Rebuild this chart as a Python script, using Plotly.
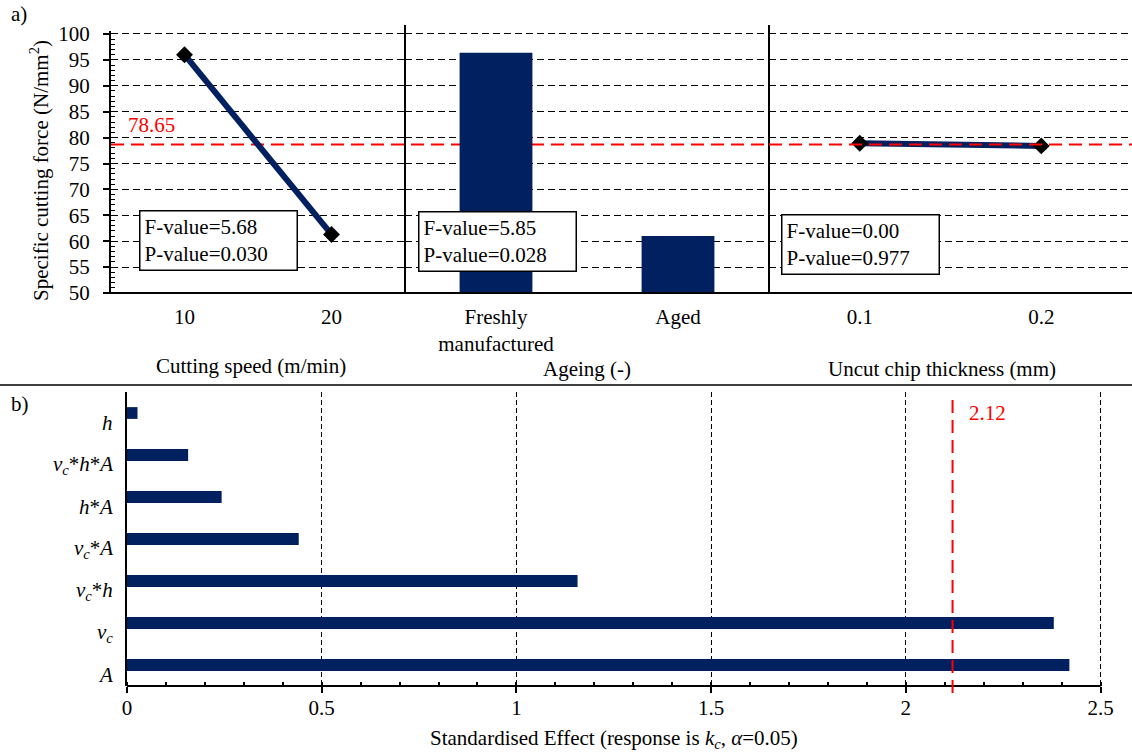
import plotly.graph_objects as go

W, H = 1132, 755
def px(x):
    return x / W
def py(y):
    return 1 - y / H

NAVY = "#002060"
RED = "#FF0000"
FONT = "Liberation Serif"
FS = 21

# ---- data (panel a) ----
speed = [10, 20]
kc_speed = [96.0, 61.3]
ageing = ["Freshly<br>manufactured", "Aged"]
kc_ageing = [96.4, 61.0]
chip = [0.1, 0.2]
kc_chip = [78.9, 78.4]
mean_kc = 78.65
stats_text = [
    "F-value=5.68<br>P-value=0.030",
    "F-value=5.85<br>P-value=0.028",
    "F-value=0.00<br>P-value=0.977",
]
factor_titles = ["Cutting speed (m/min)", "Ageing (-)", "Uncut chip thickness (mm)"]

# ---- data (panel b) ----
terms = ["A", "vc", "vc*h", "vc*A", "h*A", "vc*h*A", "h"]
term_labels = [
    "<i>A</i>",
    "<i>v<sub>c</sub></i>",
    "<i>v<sub>c</sub></i>*<i>h</i>",
    "<i>v<sub>c</sub></i>*<i>A</i>",
    "<i>h</i>*<i>A</i>",
    "<i>v<sub>c</sub></i>*<i>h</i>*<i>A</i>",
    "<i>h</i>",
]
effects = [2.42, 2.38, 1.157, 0.441, 0.243, 0.157, 0.027]
critical = 2.12

fig = go.Figure()

fig.add_trace(go.Scatter(
    x=speed, y=kc_speed, xaxis="x", yaxis="y", mode="lines+markers",
    line=dict(color=NAVY, width=6),
    marker=dict(symbol="diamond", size=13, color="black"),
    cliponaxis=False))
fig.add_trace(go.Bar(
    x=ageing, y=kc_ageing, xaxis="x2", yaxis="y2", width=0.4,
    marker=dict(color=NAVY, line=dict(width=0))))
fig.add_trace(go.Scatter(
    x=chip, y=kc_chip, xaxis="x3", yaxis="y3", mode="lines+markers",
    line=dict(color=NAVY, width=6),
    marker=dict(symbol="diamond", size=13, color="black"),
    cliponaxis=False))
fig.add_trace(go.Bar(
    x=effects, y=terms, orientation="h", xaxis="x4", yaxis="y4", width=0.28,
    marker=dict(color=NAVY, line=dict(width=0))))

YR = [50, 100.5]
ydom_top = [(H - 293) / H, (H - 31.4) / H]
ydom_bot = [(H - 686) / H, (H - 392) / H]

grid_top = dict(showgrid=True, gridcolor="black", gridwidth=1.2, griddash="7px,4px")

tickfont = dict(family=FONT, size=FS, color="black")

fig.update_layout(
    template="none",
    width=W, height=H,
    margin=dict(l=0, r=0, t=0, b=0, pad=0, autoexpand=False),
    paper_bgcolor="white", plot_bgcolor="white",
    showlegend=False,
    font=dict(family=FONT, size=FS, color="black"),
    xaxis=dict(domain=[px(111), px(405)], range=[5, 25], tickvals=speed,
               ticks="", showline=False, showgrid=False, zeroline=False,
               anchor="y", tickfont=tickfont, ticklabelstandoff=9, automargin=False),
    xaxis2=dict(domain=[px(405), px(769)], type="category", range=[-0.5, 1.5],
                ticks="", showline=False, showgrid=False, zeroline=False,
                anchor="y2", tickfont=tickfont, ticklabelstandoff=9, automargin=False),
    xaxis3=dict(domain=[px(769), 1], range=[0.05, 0.25], tickvals=chip,
                ticks="", showline=False, showgrid=False, zeroline=False,
                anchor="y3", tickfont=tickfont, ticklabelstandoff=9, automargin=False),
    yaxis=dict(domain=ydom_top, range=YR, autorange=False, tick0=50, dtick=5,
               ticks="outside", ticklen=6, tickwidth=1.5, tickcolor="black",
               minor=dict(dtick=1, tick0=50, ticks="inside", ticklen=4,
                          tickwidth=1, tickcolor="black", showgrid=False),
               showline=True, linewidth=2, linecolor="black", zeroline=False,
               anchor="x", tickfont=tickfont, ticklabelstandoff=9,
               automargin=False, **grid_top),
    yaxis2=dict(domain=ydom_top, range=YR, autorange=False, tick0=50, dtick=5, ticks="",
                showticklabels=False, showline=False, zeroline=False,
                anchor="x2", automargin=False, **grid_top),
    yaxis3=dict(domain=ydom_top, range=YR, autorange=False, tick0=50, dtick=5, ticks="",
                showticklabels=False, showline=False, zeroline=False,
                anchor="x3", automargin=False, **grid_top),
    xaxis4=dict(domain=[px(127), px(1120)], range=[0, 2.55], autorange=False,
                tick0=0, dtick=0.5,
                ticks="outside", ticklen=6, tickwidth=1.5, tickcolor="black",
                minor=dict(dtick=0.1, tick0=0, ticks="inside", ticklen=4,
                           tickwidth=1.5, tickcolor="black", showgrid=False),
                showgrid=True, gridcolor="black", gridwidth=1, griddash="5px,3px",
                showline=False, zeroline=False, anchor="y4",
                tickfont=tickfont, ticklabelstandoff=-3, automargin=False),
    yaxis4=dict(domain=ydom_bot, type="category", categoryorder="array",
                categoryarray=terms, range=[-0.5, 6.5], autorange=False,
                showticklabels=False,
                ticks="", showline=True, linewidth=2, linecolor="black",
                showgrid=False, zeroline=False, anchor="x4", automargin=False),
)

shapes = []
# separators between factor panels
for xs in (405, 769):
    shapes.append(dict(type="line", xref="paper", yref="paper",
                       x0=px(xs), x1=px(xs), y0=py(293), y1=py(25),
                       line=dict(color="black", width=2)))
# baseline of panel a
shapes.append(dict(type="line", xref="paper", yref="paper",
                   x0=px(105), x1=1, y0=py(293), y1=py(293),
                   line=dict(color="black", width=2)))
# separator between a and b
shapes.append(dict(type="line", xref="paper", yref="paper",
                   x0=0, x1=1, y0=py(385), y1=py(385),
                   line=dict(color="#404040", width=2)))
# mean line
shapes.append(dict(type="line", xref="paper", yref="y", layer="below",
                   x0=px(111), x1=px(769), y0=mean_kc, y1=mean_kc,
                   line=dict(color=RED, width=2, dash="13px,7px")))
shapes.append(dict(type="line", xref="paper", yref="y3", layer="above",
                   x0=px(769), x1=1, y0=mean_kc, y1=mean_kc,
                   line=dict(color=RED, width=2, dash="13px,7px")))
# bottom x axis line
shapes.append(dict(type="line", xref="x4", yref="paper",
                   x0=0, x1=2.5, y0=py(686), y1=py(686),
                   line=dict(color="black", width=2)))
# critical value line
shapes.append(dict(type="line", xref="x4", yref="paper",
                   x0=critical, x1=critical, y0=py(693), y1=py(397),
                   line=dict(color=RED, width=2, dash="13px,7px")))
fig.update_layout(shapes=shapes)

ann = []
def text(x, y, t, xanchor="center", yanchor="middle", color="black", size=FS, **kw):
    ann.append(dict(x=px(x), y=py(y), xref="paper", yref="paper", text=t,
                    showarrow=False, xanchor=xanchor, yanchor=yanchor,
                    font=dict(family=FONT, size=size, color=color), **kw))

text(9, 14, "a)", xanchor="left")
text(9, 404, "b)", xanchor="left")
text(40, 171, "Specific cutting force (N/mm<sup>2</sup>)", textangle=-90)
text(126, 125, f"{mean_kc:.2f}", xanchor="left", color=RED)
text(967, 413, f"{critical:.2f}", xanchor="left", color=RED)
for (cx, cy), t in zip([(251, 366), (587, 369), (942, 369)], factor_titles):
    text(cx, cy, t)
text(614, 739, "Standardised Effect (response is <i>k<sub>c</sub></i>, <i>α</i>=0.05)")

# stats boxes
for (bx, by), t in zip([(139, 210), (418, 211), (781, 214)], stats_text):
    ann.append(dict(x=px(bx), y=py(by), xref="paper", yref="paper", text=t,
                    showarrow=False, xanchor="left", yanchor="top", align="left",
                    width=148, height=50, borderpad=4, bordercolor="black",
                    borderwidth=1.5, bgcolor="white",
                    font=dict(family=FONT, size=FS, color="black")))

# term labels in panel b
for term, lab in zip(terms, term_labels):
    ann.append(dict(x=px(115), y=term, xref="paper", yref="y4", text=lab,
                    showarrow=False, xanchor="right", yanchor="middle", yshift=-10,
                    font=dict(family=FONT, size=FS, color="black")))

fig.update_layout(annotations=ann)
fig.write_html("out.html")
